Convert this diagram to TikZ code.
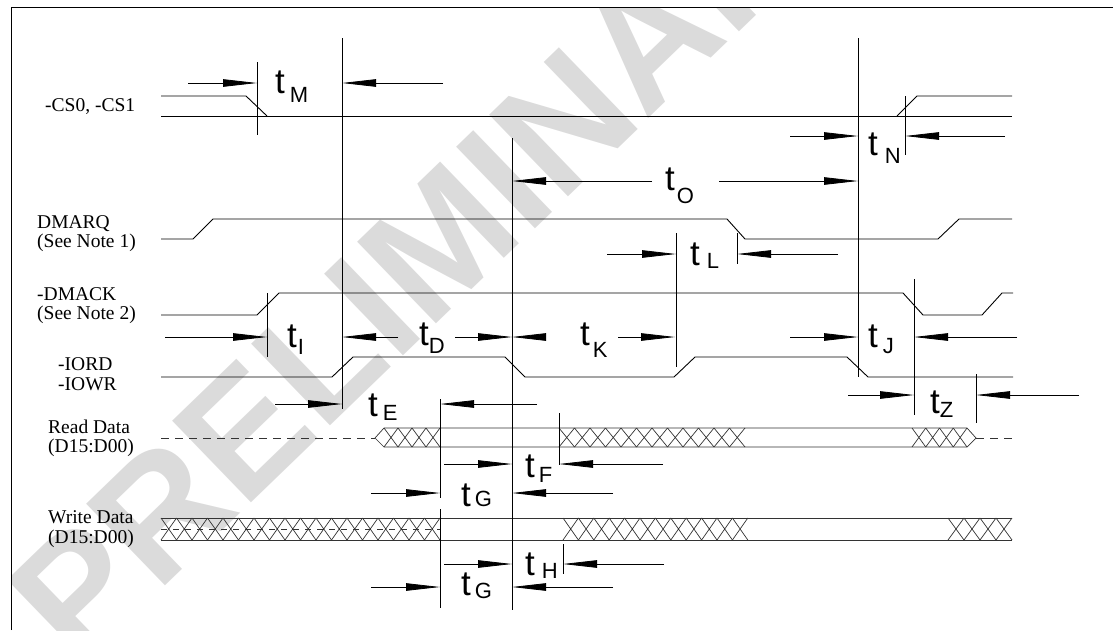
\documentclass[tikz,border=0pt]{standalone}
\usepackage{fontspec}
\setmainfont{Liberation Serif}
\newfontfamily\tfont{Liberation Sans}
\usetikzlibrary{arrows.meta}
\tikzset{
  sig/.style={line width=0.9pt,draw=black},
  bus/.style={line width=0.7pt,draw=black!80},
  tickline/.style={line width=0.8pt,draw=black},
  dimarrow/.style={line width=0.8pt,-{Triangle[length=34pt,width=7.5pt]}},
  signame/.style={font=\fontsize{19.5}{22}\selectfont,anchor=base west,inner sep=0pt},
  tlabel/.style={font=\tfont\fontsize{35}{35}\selectfont,anchor=base west,inner sep=0pt}
}
% t with lowered subscript: gap, drop, letter
\newcommand{\tsub}[3]{t\hspace{#1}\raisebox{-#2}{\fontsize{22}{22}\selectfont #3}}

\begin{document}
\begin{tikzpicture}[x=1pt,y=-1pt]
  \useasboundingbox (0,0) rectangle (1113,630);

  % watermark
  \begin{scope}
    \clip (11,8) rectangle (1113,630);
    \node[font=\tfont\bfseries\fontsize{165}{165}\selectfont,text=black!14,rotate=44] (wm) at (446,236) {PRELIMINARY};
  \end{scope}

  % frame
  \draw[line width=1.2pt] (11.5,630) -- (11.5,7.5) -- (1113,7.5);

  % signal names
  \node[signame] (cs) at (45,111) {-CS0, -CS1};
  \node[signame] (dmarq) at (37,228) {DMARQ};
  \node[signame] (dmarqnote) at (37,247) {(See Note 1)};
  \node[signame] (dmack) at (37,300) {-DMACK};
  \node[signame] (dmacknote) at (37,319) {(See Note 2)};
  \node[signame] (iord) at (58,370) {-IORD};
  \node[signame] (iowr) at (58,390) {-IOWR};
  \node[signame] (rd) at (48,433) {Read Data};
  \node[signame] (rdbus) at (48,452) {(D15:D00)};
  \node[signame] (wd) at (48,523) {Write Data};
  \node[signame] (wdbus) at (48,543) {(D15:D00)};

  % waveforms
  \draw[sig] (161,96) -- (246,96) -- (267,116);
  \draw[sig] (161,116) -- (1012,116);
  \draw[sig] (897,116) -- (917,96) -- (1012,96);
  \draw[sig] (161,239) -- (193,239) -- (213,219) -- (727,219) -- (745,239) -- (938,239) -- (959,219) -- (1012,219);
  \draw[sig] (161,315) -- (257,315) -- (279,293) -- (903,293) -- (923,315) -- (982,315) -- (1002,293) -- (1013,293);
  \draw[sig] (161,377) -- (332,377) -- (353,357) -- (505,357) -- (525,377) -- (674,377) -- (695,357) -- (847,357) -- (868,377) -- (1013,377);

  % read data bus
  \draw[bus,dash pattern=on 8pt off 6pt] (161,438) -- (375,438);
  \draw[bus] (375,438) -- (384,428) -- (967,428) -- (976,438) -- (967,447) -- (384,447) -- cycle;
  \draw[bus,dash pattern=on 8pt off 6pt] (976,438) -- (1012,438);
  \foreach \a/\n/\w in {384/4/14, 559/12/15.5, 912/4/13.75}
    \foreach \i in {1,...,\n}
      \draw[bus] ({\a+(\i-1)*\w},428) -- ({\a+\i*\w},447) ({\a+(\i-1)*\w},447) -- ({\a+\i*\w},428);

  % write data bus
  \draw[bus] (161,518) -- (1012,518) (161,540) -- (1012,540);
  \draw[bus,dash pattern=on 6pt off 6pt] (161,529) -- (440,529);
  \foreach \a/\n/\w in {161/18/15.5, 563/12/15.4, 948/4/16}
    \foreach \i in {1,...,\n}
      \draw[bus] ({\a+(\i-1)*\w},518) -- ({\a+\i*\w},540) ({\a+(\i-1)*\w},540) -- ({\a+\i*\w},518);

  % reference lines
  \foreach \x/\ya/\yb in {257/62/135, 342/38/409, 512/138/610, 858/38/377, 905/96/155,
                          676/233/367, 737/233/264, 267/293/357, 914/279/415, 976/374/423,
                          440/399/498, 440/509/608, 559/413/465, 563/544/574}
    \draw[tickline] (\x,\ya) -- (\x,\yb);

  % dimension arrows
  \foreach \y/\a/\b in {83/188/257, 83/443/342, 136/790/858, 136/1005/905, 181/652/512, 181/719/858,
                        254/607/676, 254/838/737, 337/165/267, 337/398/342, 337/455/512, 337/545/512,
                        337/618/675, 337/790/858, 337/1017/914, 395/848/914, 395/1079/976,
                        404/275/342, 404/537/440, 464/444/512, 464/663/559, 493/371/440, 493/613/512,
                        564/444/512, 564/664/563, 587/371/440, 587/613/512}
    \draw[dimarrow] (\a,\y) -- (\b,\y);

  % timing labels
  \node[tlabel] (tm) at (275,93) {\tsub{5pt}{9pt}{M}};
  \node[tlabel] (tn) at (868,155) {\tsub{7pt}{8pt}{N}};
  \node[tlabel] (to) at (665,190) {\tsub{2pt}{13pt}{O}};
  \node[tlabel] (tl) at (690,265) {\tsub{7pt}{3pt}{L}};
  \node[tlabel] (ti) at (287,347) {\tsub{1pt}{7pt}{I}};
  \node[tlabel] (td) at (419,345) {\tsub{0pt}{8pt}{D}};
  \node[tlabel] (tk) at (580,345) {\tsub{3pt}{12pt}{K}};
  \node[tlabel] (tj) at (868,347) {\tsub{5pt}{6pt}{J}};
  \node[tlabel] (tz) at (930,413) {\tsub{0pt}{4pt}{Z}};
  \node[tlabel] (te) at (368,416) {\tsub{5pt}{4pt}{E}};
  \node[tlabel] (tf) at (525,477) {\tsub{4pt}{5pt}{F}};
  \node[tlabel] (tgr) at (461,506) {\tsub{4pt}{0pt}{G}};
  \node[tlabel] (th) at (525,575) {\tsub{7pt}{3pt}{H}};
  \node[tlabel] (tgw) at (461,595) {\tsub{4pt}{3pt}{G}};
\end{tikzpicture}
\end{document}
